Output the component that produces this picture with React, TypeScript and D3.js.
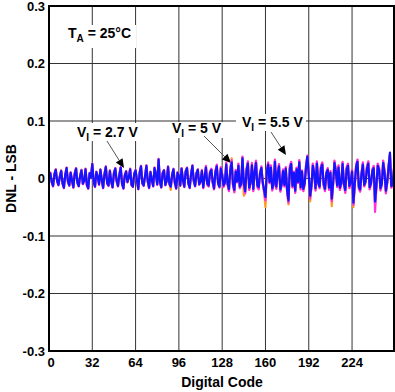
import React from "react";
import * as d3 from "d3";

// DNL in milli-LSB, one value per digital code (0..255)
const blueVals = [
  2, 9, -6, -13, 7, 15, -4, -11, 3, 13, -8, -16, 6, 18, -5, -12,
  10, -3, -15, 8, 17, -7, -13, 4, 14, -9, -4, 16, -11, -17, 9, 2,
  25, -6, -14, 11, 3, -10, 15, -2, -16, 7, 20, -8, -12, 13, -5, -15,
  9, 17, -4, -13, 6, 19, -9, -17, 5, 12, -6, 2, 16, -11, -14, 8,
  14, -3, -18, 10, 21, -8, -12, 4, 22, -5, -16, 11, -2, -13, 18, 7,
  -10, 33, -6, -15, 9, 14, -11, -4, 20, -9, -14, 6, 16, -7, -17, 10,
  4, -12, 17, -3, -14, 12, 18, -8, -16, 7, 22, -4, -13, 9, 15, -10,
  -5, 13, -15, 2, 19, -9, -12, 10, 15, -6, -17, 11, 21, -8, -14, 17,
  6, -12, -7, 24, -9, -18, 14, 28, -10, -20, 12, -5, 22, -14, -9, 35,
  -8, -22, 14, 26, -16, -6, 23, -18, 10, 27, -12, -15, 9, 18, -7, -20,
  -32, 12, 24, -6, 19, -17, -10, 29, -14, 8, 21, -19, -9, 13, -11, 17,
  -20, -38, 17, 25, -13, 10, -21, 16, -6, 28, -15, 12, -18, -8, 20, 38,
  6, -30, -12, 22, 9, -17, 26, -7, -14, 18, 24, -10, -18, 9, 15, -16,
  10, -35, -8, 27, 12, -12, 19, -16, -8, 25, -9, -20, 16, 22, -13, -6,
  12, -42, -10, 20, 29, -14, -19, 8, 24, -11, -5, 17, 26, -15, -8, 13,
  18, -40, -12, 22, 15, -17, -9, 27, 11, -21, -6, 19, 45, -13, -10, 16,
];

const magentaVals = [
  3, 10, -7, -14, 8, 16, -5, -12, 4, 14, -9, -17, 7, 19, -6, -13,
  11, -4, -16, 9, 18, -8, -14, 5, 15, -10, -5, 17, -12, -18, 10, 3,
  26, -7, -15, 12, 4, -11, 16, -3, -17, 8, 21, -9, -13, 14, -6, -16,
  10, 18, -5, -14, 7, 20, -10, -18, 6, 13, -7, 3, 17, -12, -15, 9,
  15, -4, -19, 11, 22, -9, -13, 5, 23, -6, -17, 12, -3, -14, 19, 8,
  -11, 34, -7, -16, 10, 15, -12, -5, 21, -10, -15, 7, 17, -8, -18, 11,
  5, -13, 18, -4, -15, 13, 19, -9, -17, 8, 23, -5, -14, 10, 16, -11,
  -6, 15, -17, 3, 22, -11, -14, 12, 17, -8, -19, 13, 24, -10, -16, 20,
  8, -15, -9, 28, -11, -22, 17, 32, -12, -24, 15, -7, 26, -17, -11, 38,
  -10, -26, 17, 30, -20, -8, 27, -22, 12, 31, -15, -19, 11, 21, -9, -24,
  -38, 15, 28, -8, 23, -21, -12, 33, -18, 10, 25, -23, -11, 16, -14, 20,
  -24, -42, 21, 29, -16, 12, -25, 19, -8, 32, -19, 14, -22, -10, 24, 40,
  8, -35, -15, 26, 11, -21, 30, -9, -17, 22, 28, -12, -22, 11, 18, -20,
  13, -40, -10, 31, 15, -15, 23, -20, -10, 29, -11, -25, 20, 26, -17, -8,
  15, -46, -12, 24, 33, -18, -23, 10, 28, -14, -7, 21, 30, -19, -10, 16,
  22, -58, -15, 26, 18, -21, -11, 31, 14, -26, -8, 23, 42, -16, -12, 19,
];

const orangeVals = [
  2, 10, -6, -13, 7, 16, -4, -11, 3, 14, -8, -16, 6, 19, -5, -12,
  10, -3, -16, 8, 18, -7, -13, 4, 15, -9, -4, 17, -11, -17, 9, 2,
  26, -6, -14, 11, 3, -10, 16, -2, -16, 7, 21, -8, -12, 14, -5, -15,
  9, 18, -4, -13, 6, 20, -9, -17, 5, 13, -6, 2, 17, -11, -14, 8,
  14, -3, -18, 10, 22, -8, -12, 4, 23, -5, -16, 11, -2, -13, 19, 7,
  -10, 34, -6, -15, 9, 14, -11, -4, 21, -9, -20, 6, 16, -7, -17, 10,
  4, -12, 18, -3, -14, 12, 19, -8, -16, 7, 23, -4, -13, 9, 16, -10,
  -5, 14, -16, 2, 21, -10, -13, 11, 16, -7, -18, 12, 23, -9, -15, 19,
  7, -14, -8, 26, -10, -21, 16, 35, -11, -23, 13, -6, 25, -16, -10, 37,
  -30, -24, 16, 29, -19, -7, 26, -21, 11, 30, -14, -18, 10, 20, -8, -23,
  -50, 14, 27, -7, 22, -20, -11, 32, -17, 9, 24, -22, -10, 15, -13, 19,
  -23, -45, 20, 28, -15, 11, -24, 18, -7, 31, -18, 13, -21, -9, 23, 39,
  7, -40, -14, 25, 10, -20, 29, -8, -16, 21, 27, -11, -21, 10, 17, -19,
  12, -48, -9, 30, 14, -14, 22, -19, -9, 28, -10, -24, 19, 25, -16, -7,
  14, -50, -11, 23, 32, -17, -22, 9, 27, -13, -6, 20, 29, -18, -9, 15,
  21, -45, -14, 25, 17, -20, -10, 30, 13, -25, -7, 22, 43, -15, -11, 18,
];

const xTicks = [0, 32, 64, 96, 128, 160, 192, 224];
const yTicks = [0.3, 0.2, 0.1, 0, -0.1, -0.2, -0.3];
const yTickLabels = ["0.3", "0.2", "0.1", "0", "-0.1", "-0.2", "-0.3"];

const series = [
  { name: "5.5", values: orangeVals, color: "#ff9a1a", width: 2.2 },
  { name: "5", values: magentaVals, color: "#ff33dd", width: 2.2 },
  { name: "2.7", values: blueVals, color: "#1414ff", width: 2.2 },
];

const W = 395;
const H = 392;
const left = 49;
const right = 394;
const top = 6;
const bottom = 351;
const font = "Liberation Sans, Arial, sans-serif";

export default function App() {
  const x = d3.scaleLinear().domain([0, 255]).range([left, right]);
  const y = d3.scaleLinear().domain([-0.3, 0.3]).range([bottom, top]);

  const line = d3
    .line<number>()
    .x((_, i) => x(i))
    .y((d) => y(d / 1000));

  const arrow = (x1: number, y1: number, x2: number, y2: number) => {
    const a = Math.atan2(y2 - y1, x2 - x1);
    const len = 9;
    const w = 4;
    const bx = x2 - len * Math.cos(a);
    const by = y2 - len * Math.sin(a);
    const pts = [
      [x2, y2],
      [bx + w * Math.sin(a), by - w * Math.cos(a)],
      [bx - w * Math.sin(a), by + w * Math.cos(a)],
    ];
    return (
      <g>
        <line x1={x1} y1={y1} x2={bx} y2={by} stroke="#555" strokeWidth={1} />
        <polygon points={pts.map((p) => p.join(",")).join(" ")} fill="#000" />
      </g>
    );
  };

  const label = (tx: number, ty: number, sub: string, value: string, box: [number, number, number, number]) => (
    <g>
      <rect x={box[0]} y={box[1]} width={box[2]} height={box[3]} fill="#fff" />
      <text x={tx} y={ty} fontFamily={font} fontWeight="bold" fontSize={14} fill="#000">
        V<tspan fontSize={10} dy={4}>{sub}</tspan>
        <tspan dy={-4}>{` = ${value}`}</tspan>
      </text>
    </g>
  );

  return (
    <svg width={W} height={H} style={{ position: "absolute", left: 0, top: 0, background: "#fff" }}>
      {/* grid */}
      {xTicks.slice(1).map((t) => (
        <line key={"gx" + t} x1={x(t)} x2={x(t)} y1={top} y2={bottom} stroke="#333" strokeWidth={1} />
      ))}
      {yTicks.slice(1, -1).map((t) => (
        <line key={"gy" + t} x1={left} x2={right} y1={y(t)} y2={y(t)} stroke="#333" strokeWidth={1} />
      ))}

      {/* label boxes + labels */}
      <rect x={66} y={25} width={70} height={23} fill="#fff" />
      <text x={68} y={38} fontFamily={font} fontWeight="bold" fontSize={14}>
        T<tspan fontSize={10} dy={4}>A</tspan>
        <tspan dy={-4}> = 25°C</tspan>
      </text>
      {label(77, 137, "I", "2.7 V", [75, 123, 68, 18])}
      {label(172, 133, "I", "5 V", [163, 122, 62, 16])}
      {label(242, 127, "I", "5.5 V", [236, 114, 70, 17])}

      {arrow(107, 141, 124, 168)}
      {arrow(204, 136, 231, 163)}
      {arrow(271, 132, 286, 155)}

      {/* data */}
      {series.map((s) => (
        <path
          key={s.name}
          d={line(s.values) || ""}
          fill="none"
          stroke={s.color}
          strokeWidth={s.width}
          strokeLinejoin="round"
        />
      ))}

      {/* frame */}
      <rect x={left} y={top} width={right - left} height={bottom - top} fill="none" stroke="#000" strokeWidth={2} />

      {/* ticks */}
      {yTicks.map((t, i) => (
        <text
          key={"yt" + t}
          x={45}
          y={y(t) + 4.5}
          textAnchor="end"
          fontFamily={font}
          fontWeight="bold"
          fontSize={13}
        >
          {yTickLabels[i]}
        </text>
      ))}
      {xTicks.map((t) => (
        <text
          key={"xt" + t}
          x={x(t) + (t === 0 ? 2 : 0)}
          y={367}
          textAnchor="middle"
          fontFamily={font}
          fontWeight="bold"
          fontSize={13}
        >
          {t}
        </text>
      ))}
      <text x={222} y={387} textAnchor="middle" fontFamily={font} fontWeight="bold" fontSize={14}>
        Digital Code
      </text>
      <text
        transform={`translate(16, ${y(0)}) rotate(-90)`}
        textAnchor="middle"
        fontFamily={font}
        fontWeight="bold"
        fontSize={14}
      >
        DNL - LSB
      </text>
    </svg>
  );
}
